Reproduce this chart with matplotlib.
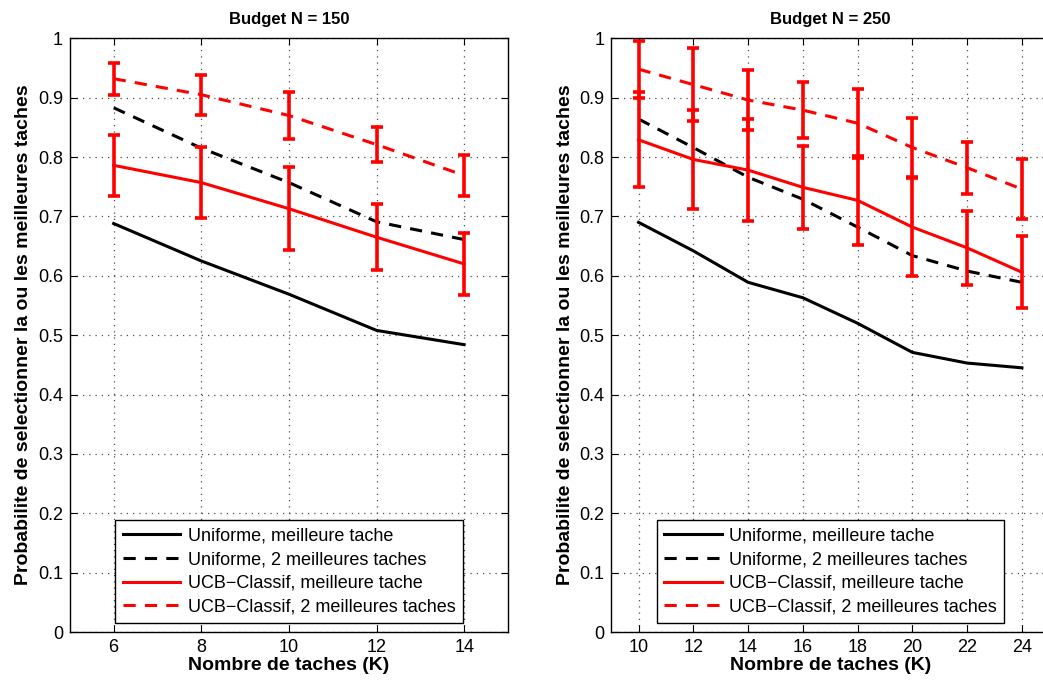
import numpy as np
import matplotlib
matplotlib.use("Agg")
import matplotlib.pyplot as plt

plt.rcParams['font.family'] = ['Liberation Sans', 'DejaVu Sans']

# donnees
K1 = [6, 8, 10, 12, 14]
unif1_best = [0.688, 0.625, 0.569, 0.508, 0.484]
unif1_two = [0.883, 0.815, 0.757, 0.691, 0.661]
ucb1_best = [0.786, 0.757, 0.713, 0.665, 0.620]
ucb1_best_err = [0.051, 0.060, 0.070, 0.056, 0.052]
ucb1_two = [0.932, 0.905, 0.870, 0.821, 0.769]
ucb1_two_err = [0.027, 0.034, 0.039, 0.030, 0.034]

K2 = [10, 12, 14, 16, 18, 20, 22, 24]
unif2_best = [0.690, 0.642, 0.589, 0.563, 0.520, 0.471, 0.453, 0.445]
unif2_two = [0.864, 0.816, 0.766, 0.729, 0.682, 0.634, 0.608, 0.589]
ucb2_best = [0.829, 0.796, 0.778, 0.749, 0.727, 0.682, 0.647, 0.606]
ucb2_best_err = [0.080, 0.083, 0.086, 0.070, 0.075, 0.083, 0.062, 0.061]
ucb2_two = [0.948, 0.922, 0.896, 0.879, 0.857, 0.816, 0.782, 0.746]
ucb2_two_err = [0.048, 0.062, 0.050, 0.047, 0.058, 0.050, 0.044, 0.050]

titres = ["Budget N = 150", "Budget N = 250"]
noms = ["Uniforme, meilleure tache", "Uniforme, 2 meilleures taches",
        "UCB\u2212Classif, meilleure tache", "UCB\u2212Classif, 2 meilleures taches"]

fig = plt.figure(figsize=(10.43, 6.84), dpi=100)
ax1 = fig.add_axes([0.067, 0.076, 0.42, 0.868])
ax2 = fig.add_axes([0.586, 0.076, 0.42, 0.868])

lw = 2.2
donnees = [(ax1, K1, unif1_best, unif1_two, ucb1_best, ucb1_best_err, ucb1_two, ucb1_two_err, (5, 15), K1),
           (ax2, K2, unif2_best, unif2_two, ucb2_best, ucb2_best_err, ucb2_two, ucb2_two_err, (9, 25), K2)]

for i, (ax, K, ub, ut, cb, cbe, ct, cte, xl, xt) in enumerate(donnees):
    ax.plot(K, ub, 'k-', lw=lw, label=noms[0])
    ax.plot(K, ut, 'k--', lw=lw, label=noms[1], dashes=(4, 3))
    ax.errorbar(K, cb, yerr=cbe, fmt='r-', lw=lw, elinewidth=2.6, capsize=4.2, capthick=2.6, label=noms[2])
    ax.errorbar(K, ct, yerr=cte, fmt='r--', lw=lw, elinewidth=2.6, capsize=4.2, capthick=2.6, dashes=(4, 3), label=noms[3])
    ax.set_xlim(xl)
    ax.set_ylim(0, 1)
    ax.set_xticks(xt)
    ax.set_yticks(np.arange(0, 1.01, 0.1))
    ax.set_yticklabels(["0", "0.1", "0.2", "0.3", "0.4", "0.5", "0.6", "0.7", "0.8", "0.9", "1"])
    ax.grid(True, linestyle=(0, (1, 4)), color='0.3', lw=0.9)
    ax.tick_params(direction='in', top=True, right=True, labelsize=13, length=5, pad=5)
    for s in ax.spines.values():
        s.set_linewidth(1.0)
    ax.set_title(titres[i], fontsize=12, fontweight='bold', pad=10)
    ax.set_xlabel("Nombre de taches (K)", fontsize=14, fontweight='bold', labelpad=1)
    ax.set_ylabel("Probabilite de selectionner la ou les meilleures taches", fontsize=14, fontweight='bold', labelpad=4)
    # legende : lignes sans barres d'erreur
    h, l = ax.get_legend_handles_labels()
    hh = []
    for x in h:
        hh.append(x[0] if isinstance(x, matplotlib.container.ErrorbarContainer) else x)
    leg = ax.legend(hh, l, loc='lower center', fontsize=13, fancybox=False, framealpha=1,
                    edgecolor='black', handlelength=3.2, borderaxespad=0.5, labelspacing=0.38,
                    borderpad=0.4, handletextpad=0.4)
    leg.get_frame().set_linewidth(1.0)

fig.savefig("out.png", dpi=100)
